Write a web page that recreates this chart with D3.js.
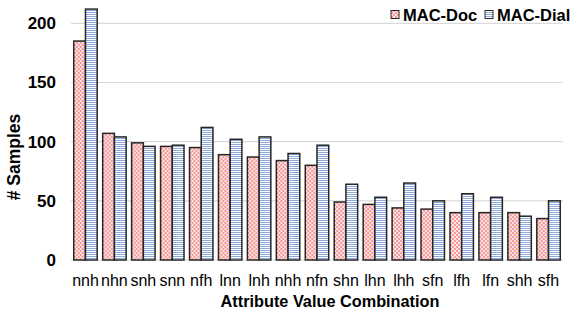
<!DOCTYPE html>
<html>
<head>
<meta charset="utf-8">
<script src="https://cdn.jsdelivr.net/npm/d3@7"></script>
<style>
  body { margin: 0; background: #fff; }
  text { font-family: "Liberation Sans", Arial, sans-serif; }
</style>
</head>
<body>
<div id="chart"></div>
<script>
var categories = ["nnh", "nhn", "snh", "snn", "nfh", "lnn", "lnh", "nhh", "nfn",
                  "shn", "lhn", "lhh", "sfn", "lfh", "lfn", "shh", "sfh"];
var seriesNames = ["MAC-Doc", "MAC-Dial"];
var macDoc = [185, 107, 99, 96, 95, 89, 87, 84, 80, 49, 47, 44, 43, 40, 40, 40, 35];
var macDial = [212, 104, 96, 97, 112, 102, 104, 90, 97, 64, 53, 65, 50, 56, 53, 37, 50];
var yTicks = [0, 50, 100, 150, 200];

var svgWidth = 573;
var svgHeight = 311;

var svg = d3.select("#chart")
    .append("svg")
    .attr("width", svgWidth)
    .attr("height", svgHeight);

// patterns
var defs = svg.append("defs");
var pRed = defs.append("pattern")
    .attr("id", "checker")
    .attr("patternUnits", "userSpaceOnUse")
    .attr("width", 4).attr("height", 4);
pRed.append("rect").attr("width", 4).attr("height", 4).attr("fill", "#fde3e3");
pRed.append("rect").attr("width", 2).attr("height", 2).attr("fill", "#f59a9a");
pRed.append("rect").attr("x", 2).attr("y", 2).attr("width", 2).attr("height", 2).attr("fill", "#f59a9a");

var pBlue = defs.append("pattern")
    .attr("id", "stripes")
    .attr("patternUnits", "userSpaceOnUse")
    .attr("width", 4).attr("height", 2);
pBlue.append("rect").attr("width", 4).attr("height", 2).attr("fill", "#ffffff");
pBlue.append("rect").attr("width", 4).attr("height", 1).attr("fill", "#8eaadb");

var fills = ["url(#checker)", "url(#stripes)"];

var rows = categories.map(function(c, i) {
    return { cat: c, values: [macDoc[i], macDial[i]] };
});

// scales
var x0 = d3.scaleBand()
    .domain(categories)
    .range([71, 563])
    .paddingInner(0.19)
    .paddingOuter(0.095);

var x1 = d3.scaleBand()
    .domain([0, 1])
    .range([0, x0.bandwidth()]);

var yScale = d3.scaleLinear()
    .domain([0, 200])
    .range([260, 23.3]);

// gridlines
svg.append("g")
    .selectAll("line")
    .data(yTicks)
    .enter()
    .append("line")
    .attr("x1", 71)
    .attr("x2", 563)
    .attr("y1", d => yScale(d))
    .attr("y2", d => yScale(d))
    .attr("stroke", "#d9d9d9")
    .attr("stroke-width", 1.2);

// y axis labels
var yAxis = d3.axisLeft(yScale).tickValues(yTicks).tickSize(0).tickPadding(0);
var yG = svg.append("g")
    .attr("transform", "translate(56,0)")
    .call(yAxis);
yG.select(".domain").remove();
yG.selectAll("text")
    .attr("font-size", 17)
    .attr("font-weight", "bold")
    .attr("fill", "#000")
    .style("font-family", "'Liberation Sans', Arial, sans-serif");

// bars
var groups = svg.append("g")
    .selectAll("g")
    .data(rows)
    .enter()
    .append("g")
    .attr("transform", d => `translate(${x0(d.cat)},0)`);

groups.selectAll("rect")
    .data(d => d.values)
    .enter()
    .append("rect")
    .attr("x", (d, i) => x1(i))
    .attr("y", d => yScale(d))
    .attr("width", x1.bandwidth())
    .attr("height", d => yScale(0) - yScale(d))
    .attr("fill", (d, i) => fills[i])
    .attr("stroke", "#262626")
    .attr("stroke-width", 1.5);

// x axis labels
var xAxis = d3.axisBottom(x0).tickSize(0).tickPadding(0);
var xG = svg.append("g")
    .attr("transform", "translate(0,274.5)")
    .call(xAxis);
xG.select(".domain").remove();
xG.selectAll("text")
    .attr("font-size", 16)
    .attr("fill", "#000")
    .style("font-family", "'Liberation Sans', Arial, sans-serif");

// axis titles
svg.append("text")
    .attr("transform", "translate(20,157) rotate(-90)")
    .attr("text-anchor", "middle")
    .attr("font-size", 17.5)
    .attr("font-weight", "bold")
    .text("# Samples");

svg.append("text")
    .attr("x", 330)
    .attr("y", 306.5)
    .attr("text-anchor", "middle")
    .attr("font-size", 16.3)
    .attr("font-weight", "bold")
    .text("Attribute Value Combination");

// legend
var legendX = [391, 485];
var legend = svg.append("g")
    .selectAll("g")
    .data(seriesNames)
    .enter()
    .append("g")
    .attr("transform", (d, i) => `translate(${legendX[i]},0)`);

legend.append("rect")
    .attr("x", 0)
    .attr("y", 10.5)
    .attr("width", 8)
    .attr("height", 8)
    .attr("fill", (d, i) => fills[i])
    .attr("stroke", "#262626")
    .attr("stroke-width", 1);

legend.append("text")
    .attr("x", 12)
    .attr("y", 20.5)
    .attr("font-size", 16.5)
    .attr("font-weight", "bold")
    .text(d => d);
</script>
</body>
</html>
